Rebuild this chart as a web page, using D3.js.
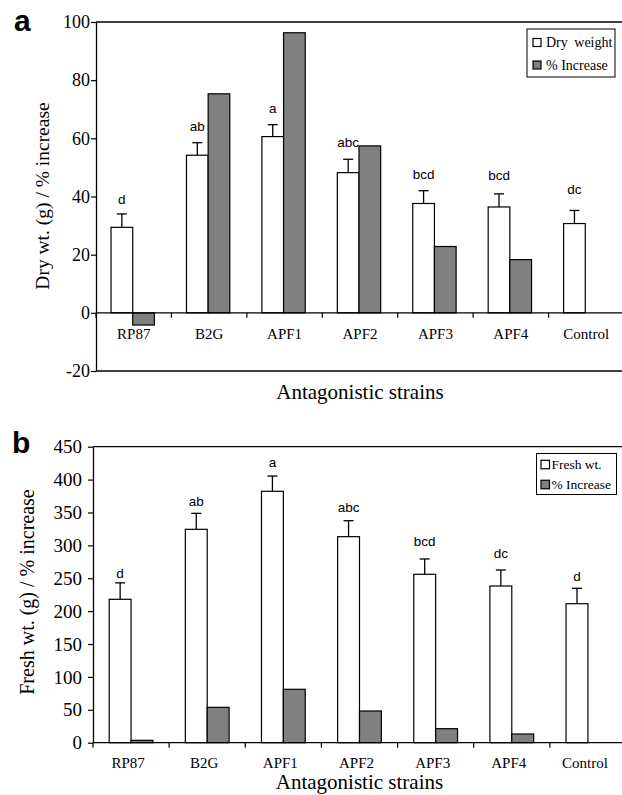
<!DOCTYPE html>
<html>
<head>
<meta charset="utf-8">
<script src="https://cdn.jsdelivr.net/npm/d3@7/dist/d3.min.js"></script>
<style>
  html, body { margin: 0; padding: 0; background: #fff; }
  svg { display: block; }
  .serif { font-family: "Liberation Serif", "Times New Roman", serif; }
  .sans { font-family: "Liberation Sans", Arial, sans-serif; }
</style>
</head>
<body>
<svg id="chart" width="622" height="795"></svg>
<script>
// ---------- DATA ----------
const categories = ["RP87", "B2G", "APF1", "APF2", "APF3", "APF4", "Control"];

// Panel a
const dryWeight      = [29.4, 54.2, 60.6, 48.2, 37.6, 36.4, 30.7];
const dryWeightErr   = [4.6, 4.3, 4.1, 4.6, 4.4, 4.5, 4.5];
const dryIncrease    = [-4.2, 75.3, 96.3, 57.4, 22.8, 18.3, null];
const dryLetters     = ["d", "ab", "a", "abc", "bcd", "bcd", "dc"];
const dryLetterAt    = [37.5, 62.5, 68.7, 57.0, 46.0, 45.7, 40.9];
const dryTicks       = [-20, 0, 20, 40, 60, 80, 100];

// Panel b
const freshWeight    = [218, 324.4, 382.2, 313.2, 256, 238.2, 211.3];
const freshWeightErr = [25, 24.3, 23.2, 24.3, 23.3, 24.3, 23.4];
const freshIncrease  = [3.6, 53.8, 81.2, 48.2, 21.3, 13.2, null];
const freshLetters   = ["d", "ab", "a", "abc", "bcd", "dc", "d"];
const freshLetterAt  = [250.4, 359.8, 419, 350.5, 299, 280.3, 245.8];
const freshTicks     = [0, 50, 100, 150, 200, 250, 300, 350, 400, 450];

// ---------- DRAWING ----------
const svg = d3.select("#chart");
const GRAY = "#808080";

function panel(cfg) {
  const g = svg.append("g");
  const x = d3.scaleBand().domain(categories).range([cfg.left, cfg.right]).paddingInner(0).paddingOuter(0);
  const x1 = d3.scaleBand().domain(["w", "p"]).range([0, x.bandwidth()]).paddingInner(0).paddingOuter(0.74);
  const y = d3.scaleLinear().domain(cfg.domain).range([cfg.bottom, cfg.top]);
  const y0 = y(0);

  // frame lines (top, and bottom if any)
  g.append("line").attr("x1", cfg.left).attr("x2", 622).attr("y1", cfg.top).attr("y2", cfg.top)
    .attr("stroke", "#000").attr("stroke-width", 1.3);
  if (cfg.domain[0] < 0) {
    g.append("line").attr("x1", cfg.left).attr("x2", 622).attr("y1", cfg.bottom).attr("y2", cfg.bottom)
      .attr("stroke", "#000").attr("stroke-width", 1.3);
  }

  // y axis
  const yAxis = d3.axisLeft(y).tickValues(cfg.ticks).tickFormat(d => String(d))
    .tickSize(5).tickPadding(cfg.tickPad).tickSizeOuter(0);
  const ya = g.append("g").attr("transform", `translate(${cfg.left},0)`).call(yAxis);
  ya.attr("font-family", null);
  ya.select(".domain").attr("stroke-width", 1.3);
  ya.selectAll(".tick line").attr("stroke-width", 1.2);
  ya.selectAll(".tick text").attr("class", "serif").style("font-size", cfg.yFont + "px").attr("fill", "#000");

  // bars - white
  const idx = d3.range(categories.length);
  g.selectAll(".wbar").data(idx).enter().append("rect")
    .attr("x", i => x(categories[i]) + x1("w") + cfg.shift)
    .attr("width", x1.bandwidth())
    .attr("y", i => y(cfg.values[i]))
    .attr("height", i => y0 - y(cfg.values[i]))
    .attr("fill", "#fff").attr("stroke", "#000").attr("stroke-width", 1.2);

  // bars - gray
  g.selectAll(".pbar").data(idx.filter(i => cfg.incr[i] !== null)).enter().append("rect")
    .attr("x", i => x(categories[i]) + x1("p") + cfg.shift)
    .attr("width", x1.bandwidth())
    .attr("y", i => Math.min(y(cfg.incr[i]), y0))
    .attr("height", i => Math.abs(y0 - y(cfg.incr[i])))
    .attr("fill", GRAY).attr("stroke", "#000").attr("stroke-width", 1.2);

  // error bars + letters
  idx.forEach(i => {
    const cx = x(categories[i]) + x1("w") + x1.bandwidth() / 2 + cfg.shift;
    const yt = y(cfg.values[i] + cfg.err[i]);
    g.append("line").attr("x1", cx).attr("x2", cx).attr("y1", y(cfg.values[i])).attr("y2", yt)
      .attr("stroke", "#000").attr("stroke-width", 1.3);
    g.append("line").attr("x1", cx - 5).attr("x2", cx + 5).attr("y1", yt).attr("y2", yt)
      .attr("stroke", "#000").attr("stroke-width", 1.3);
    g.append("text").attr("class", "sans").attr("x", cx).attr("y", y(cfg.letterAt[i]))
      .attr("text-anchor", "middle").style("font-size", "13.5px")
      .text(cfg.letters[i]);
  });

  // x axis at zero
  g.append("line").attr("x1", cfg.left).attr("x2", 622).attr("y1", y0).attr("y2", y0)
    .attr("stroke", "#000").attr("stroke-width", 1.3);
  const bounds = categories.map(c => x(c));
  g.selectAll(".xt").data(bounds).enter().append("line")
    .attr("x1", d => d).attr("x2", d => d).attr("y1", y0).attr("y2", y0 + 5)
    .attr("stroke", "#000").attr("stroke-width", 1.2);
  g.selectAll(".xl").data(categories).enter().append("text")
    .attr("class", "serif")
    .attr("x", c => x(c) + x.bandwidth() / 2 + cfg.labelShift)
    .attr("y", y0 + cfg.labelDy)
    .attr("text-anchor", "middle").style("font-size", "15px")
    .text(c => c);

  // axis titles
  g.append("text").attr("class", "serif")
    .attr("transform", `translate(${cfg.yTitleX},${cfg.yTitleY}) rotate(-90)`)
    .attr("text-anchor", "middle").style("font-size", cfg.yTitleSize + "px")
    .text(cfg.yTitle);
  g.append("text").attr("class", "serif").attr("x", (cfg.left + cfg.right) / 2).attr("y", cfg.xTitleY)
    .attr("text-anchor", "middle").style("font-size", "21px")
    .text("Antagonistic strains");

  // panel letter
  g.append("text").attr("class", "sans").attr("x", cfg.letterX).attr("y", cfg.letterY)
    .style("font-weight", "bold").style("font-size", "30px")
    .text(cfg.panelLabel);

  // legend
  const L = cfg.legend;
  const lg = g.append("g");
  lg.append("rect").attr("x", L.x).attr("y", L.y).attr("width", L.w).attr("height", L.h)
    .attr("fill", "#fff").attr("stroke", "#000").attr("stroke-width", 1);
  L.items.forEach((it, k) => {
    const cy = L.y + L.first + k * L.gap;
    lg.append("rect").attr("x", L.x + L.sq0).attr("y", cy - L.sq / 2).attr("width", L.sq).attr("height", L.sq)
      .attr("fill", k === 0 ? "#fff" : GRAY).attr("stroke", "#000").attr("stroke-width", 1.2);
    lg.append("text").attr("class", "serif").attr("x", L.x + L.tx).attr("y", cy + L.fs * 0.33)
      .style("font-size", L.fs + "px").style("word-spacing", (k === 0 ? L.ws : 0) + "px")
      .text(it);
  });
}

panel({
  left: 96, right: 624, top: 22, bottom: 371, domain: [-20, 100], ticks: dryTicks,
  values: dryWeight, err: dryWeightErr, incr: dryIncrease, letters: dryLetters, letterAt: dryLetterAt,
  shift: -1, labelShift: 0, labelDy: 26, yFont: 18, tickPad: 1,
  yTitle: "Dry wt. (g) / % increase", yTitleX: 49, yTitleY: 196, yTitleSize: 19.5,
  xTitleY: 399, panelLabel: "a", letterX: 14, letterY: 31,
  legend: { x: 527, y: 29, w: 88, h: 48, first: 13.5, gap: 22.5, sq: 8, sq0: 6, tx: 19, fs: 14, ws: 3,
            items: ["Dry weight", "% Increase"] }
});

panel({
  left: 93, right: 626, top: 446.7, bottom: 742.7, domain: [0, 450], ticks: freshTicks,
  values: freshWeight, err: freshWeightErr, incr: freshIncrease, letters: freshLetters, letterAt: freshLetterAt,
  shift: 0, labelShift: -3, labelDy: 25.5, yFont: 19, tickPad: 6,
  yTitle: "Fresh wt. (g) / % increase", yTitleX: 34, yTitleY: 592, yTitleSize: 20,
  xTitleY: 789, panelLabel: "b", letterX: 12, letterY: 453,
  legend: { x: 536.5, y: 453.5, w: 80, h: 41, first: 11, gap: 20, sq: 8.5, sq0: 4.5, tx: 15, fs: 13.5, ws: 0,
            items: ["Fresh wt.", "% Increase"] }
});
</script>
</body>
</html>
